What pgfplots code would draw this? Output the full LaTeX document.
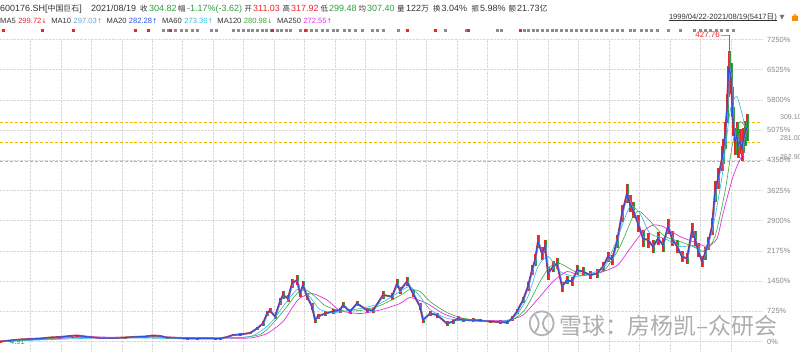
\documentclass[border=0pt]{standalone}
\usepackage{fontspec}
\setmainfont{Liberation Sans}
\newfontfamily\cjk{Noto Sans CJK SC}
\newfontfamily\dv{DejaVu Sans}
\usepackage{pgfplots}
\usepackage{pgfplotstable}
\pgfplotsset{compat=1.18}
\definecolor{txt}{HTML}{333333}
\definecolor{upred}{HTML}{E8262B}
\definecolor{dngreen}{HTML}{2E9E3E}
\definecolor{ma10}{HTML}{6F9FD0}
\definecolor{ma20}{HTML}{2850E8}
\definecolor{ma60}{HTML}{30B8E0}
\definecolor{ma120}{HTML}{3AA83A}
\definecolor{ma250}{HTML}{E030E0}
\definecolor{dashcol}{HTML}{F5B800}
\definecolor{lbl}{HTML}{888888}

\pgfplotstableread{
x y e
0 0 15
10 24 15
20 48 15
30 60 15
40 72 15
50 96 20
60 108 20
70 132 20
77 144 20
85 120 20
100 84 20
115 84 20
125 96 20
133 108 20
145 120 20
153 144 20
160 132 20
167 96 20
177 84 20
187 72 15
197 72 15
207 77 15
215 72 15
220 72 15
227 108 20
233 156 25
240 168 25
250 204 30
257 312 40
263 432 50
267 672 70
270 744 70
275 600 60
280 960 80
283 1116 90
288 1032 90
292 1392 100
297 1476 110
300 1152 90
303 1356 100
307 1080 90
312 840 80
315 516 60
318 600 60
325 672 60
333 720 60
340 756 60
343 876 70
350 720 60
357 912 70
367 756 60
373 744 60
383 1116 90
392 1080 90
397 1392 100
400 1224 90
407 1440 100
413 1152 90
420 840 80
423 516 60
430 672 60
437 636 60
447 432 50
453 480 50
458 552 50
463 516 50
473 516 40
480 504 40
490 480 40
500 468 40
507 456 40
512 552 50
517 720 60
523 996 80
528 1320 100
532 1716 120
535 1956 140
538 2400 160
542 2112 160
545 2280 160
548 1632 150
553 1800 130
557 1872 130
562 1320 120
567 1476 100
572 1440 100
577 1716 110
583 1680 100
590 1596 100
597 1632 100
603 1800 110
608 2040 120
612 1968 120
617 2400 150
622 3072 200
627 3552 220
630 3312 200
633 3156 200
638 2832 200
643 2472 200
648 2436 180
653 2280 160
658 2472 160
663 2316 160
668 2760 180
672 2472 170
677 2280 160
682 2040 140
687 1992 140
692 2676 180
695 2472 170
698 2196 160
702 1920 140
705 2112 150
708 2352 160
712 2760 200
715 3600 250
718 3912 260
722 4392 300
723 4560 300
725 4944 320
727 5592 350
728 6240 380
729 6600 380
731 6312 380
732 5760 360
733 5280 340
735 4800 320
737 4944 320
738 4704 300
740 4800 300
742 4632 300
743 4824 300
745 4992 300
747 5136 320
}\closedata

\pgfplotstableread{
x y
0 0
30 36
60 72
80 108
100 108
130 96
160 108
190 96
220 84
250 84
267 192
283 480
293 840
300 1044
312 1152
327 996
340 744
360 672
380 756
400 912
410 1056
427 912
443 672
457 552
470 516
490 504
507 504
523 636
540 1080
553 1440
567 1680
580 1584
597 1632
617 1824
630 2232
643 2640
653 2796
663 2760
680 2520
693 2400
707 2280
717 2472
723 3072
733 3960
740 4368
745 4584
}\madata

\pgfplotstableread{
x y
0 0
60 84
100 96
160 108
200 84
240 96
260 168
270 360
283 720
297 1152
305 1248
315 1080
325 864
340 744
360 744
380 864
400 1104
410 1248
420 1200
430 960
445 720
460 576
480 504
510 504
525 768
540 1440
550 1800
560 1872
575 1680
590 1608
605 1728
620 2280
633 3000
640 3120
655 2760
665 2520
680 2400
693 2280
705 2160
715 2520
725 3600
733 4800
740 5280
747 5088
}\mbdata

\pgfplotstableread{
x y
0 0
100 84
200 72
250 120
270 432
283 840
297 1248
305 1200
312 1008
320 768
335 696
360 792
380 912
400 1200
410 1320
420 1080
430 768
445 576
460 504
500 480
515 600
528 1080
538 1800
548 2040
560 1680
575 1560
590 1632
605 1800
618 2520
630 3240
640 3072
650 2592
665 2472
680 2280
693 2304
703 2160
712 2640
722 3960
730 5520
737 5880
745 5160
}\mcdata

\begin{document}
\begin{tikzpicture}[x=1bp,y=1bp]
\useasboundingbox (0,0) rectangle (800,351);
\begin{axis}[at={(0,0)}, anchor=south west, scale only axis,
  width=762bp, height=311.5bp,
  xmin=0, xmax=762, ymin=-228, ymax=7250, enlargelimits=false,
  clip=false, axis line style={draw=none}, major tick length=0pt,
  xtick={30.5,61,91.4,121.8,152.3,182.7,213.2,243.6,274,304.5,335,365.4,395.9,426.3,456.8,487.2,517.7,548.1,578.6,609,639.5,669.9,700.4,730.8},
  xticklabels={},
  ytick={0,725,1450,2175,2900,3625,4350,5075,5800,6525,7250},
  yticklabels={0\%,725\%,1450\%,2175\%,2900\%,3625\%,4350\%,5075\%,5800\%,6525\%,7250\%},
  yticklabel pos=right,
  yticklabel style={font=\fontsize{7.5}{8}\selectfont, text=lbl, anchor=west, inner sep=0pt, xshift=5bp},
  grid=major, major grid style={densely dotted, black!15, line width=0.5bp}]

% price level dashed lines
\addplot[dashcol, densely dashed, line width=0.7bp] coordinates {(0,5268) (762,5268)};
\addplot[dashcol, densely dashed, line width=0.7bp] coordinates {(0,4788) (762,4788)};
\addplot[dashcol, densely dashed, line width=0.7bp] coordinates {(0,4332) (762,4332)};

% event markers row
\addplot[only marks, mark=square*, mark size=0.7bp, black!45] coordinates {
(163,7476)(168,7476)(175,7476)(181,7476)(186,7476)(192,7476)(197,7476)(211,7476)(216,7476)
(233,7476)(238,7476)(243,7476)(248,7476)(252,7476)(257,7476)(262,7476)(266,7476)(271,7476)(277,7476)(281,7476)(286,7476)(290,7476)
(300,7476)(306,7476)(311,7476)(316,7476)(322,7476)(327,7476)(333,7476)(337,7476)(344,7476)(349,7476)(355,7476)(362,7476)
(372,7476)(377,7476)(383,7476)(398,7476)(445,7476)(466,7476)(497,7476)(501,7476)
(524,7476)(528,7476)(533,7476)(537,7476)(542,7476)(547,7476)(552,7476)(556,7476)(561,7476)(566,7476)(571,7476)(576,7476)(581,7476)(586,7476)(591,7476)(596,7476)(601,7476)(606,7476)
(612,7476)(617,7476)(622,7476)(630,7476)(634,7476)(641,7476)(646,7476)(651,7476)(657,7476)(668,7476)(680,7476)(694,7476)(700,7476)(705,7476)(710,7476)(716,7476)(721,7476)(727,7476)(733,7476)};
\addplot[only marks, mark=square*, mark size=1.1bp, upred] coordinates {
(3,7476)(42,7476)(73,7476)(135,7476)(148,7476)(170,7476)(272,7476)(305,7476)(407,7476)(435,7476)(468,7476)(520,7476)};

% candles approximated: high-low bars
\addplot[draw=none, mark=none, error bars/.cd, y dir=both, y explicit, error mark=none,
  error bar style={draw=upred, line width=1.3bp}] table[x=x, y=y, y error=e]{\closedata};
\addplot[draw=none, mark=none, xshift=1.6bp, error bars/.cd, y dir=both, y explicit, error mark=none,
  error bar style={draw=dngreen, line width=0.8bp}] table[x=x, y=y, y error=e]{\closedata};
\addplot[upred, line width=1.9bp, line join=round] table[x=x,y=y]{\closedata};
\addplot[ma250, line width=0.7bp, smooth, tension=0.4] table[x=x,y=y]{\madata};
\addplot[ma120, line width=0.6bp, smooth, tension=0.4] table[x=x,y=y]{\mbdata};
\addplot[ma60, line width=0.6bp, smooth, tension=0.4] table[x=x,y=y]{\mcdata};
\addplot[ma10, line width=0.6bp, line join=round, xshift=1bp] table[x=x,y=y]{\closedata};
\addplot[ma20, line width=1.0bp, line join=round] table[x=x,y=y]{\closedata};
\addplot[dngreen, line width=0.9bp] coordinates {(729,6600) (729,7356)};

\draw[black!40, line width=0.4bp] (axis cs:721,7356) -- (axis cs:729,7356);
\node[anchor=east, inner sep=0pt, text=upred, font=\fontsize{8}{9}\selectfont] at (axis cs:720,7356) {427.76};
\node[anchor=west, inner sep=0pt, text=dngreen, font=\fontsize{7.5}{8}\selectfont] at (axis cs:10,-12) {4.91};
\end{axis}

% right price labels
\node[anchor=base west, inner sep=0pt, text=lbl, font=\fontsize{7}{8}\selectfont] at (780,231.5) {309.10};
\node[anchor=base west, inner sep=0pt, text=lbl, font=\fontsize{7}{8}\selectfont] at (780,211) {281.00};
\node[anchor=base west, inner sep=0pt, text=lbl, font=\fontsize{7}{8}\selectfont] at (780,191.5) {252.90};

% header line 1
\begin{scope}[every node/.style={anchor=base west, inner sep=0pt, font=\fontsize{9}{10}\selectfont, text=txt}]
\node at (0,340) {600176.SH[{\cjk\fontsize{8}{9}\selectfont 中国巨石}]};
\node at (91,340) {2021/08/19};
\node at (140,340) {\cjk\fontsize{7.5}{9}\selectfont 收};
\node[text=dngreen] at (149,340) {304.82};
\node at (178,340) {\cjk\fontsize{7.5}{9}\selectfont 幅};
\node[text=dngreen] at (187,340) {-1.17\%(-3.62)};
\node at (244.5,340) {\cjk\fontsize{7.5}{9}\selectfont 开};
\node[text=upred] at (253,340) {311.03};
\node at (282.5,340) {\cjk\fontsize{7.5}{9}\selectfont 高};
\node[text=upred] at (291,340) {317.92};
\node at (320.5,340) {\cjk\fontsize{7.5}{9}\selectfont 低};
\node[text=dngreen] at (329,340) {299.48};
\node at (358.5,340) {\cjk\fontsize{7.5}{9}\selectfont 均};
\node[text=dngreen] at (367,340) {307.40};
\node at (397,340) {\cjk\fontsize{7.5}{9}\selectfont 量};
\node at (406,340) {122{\cjk\fontsize{8}{9}\selectfont 万}};
\node at (433,340) {\cjk\fontsize{7.5}{9}\selectfont 换};
\node at (441.5,340) {3.04\%};
\node at (471.5,340) {\cjk\fontsize{7.5}{9}\selectfont 振};
\node at (480,340) {5.98\%};
\node at (508.5,340) {\cjk\fontsize{7.5}{9}\selectfont 额};
\node at (517,340) {21.73{\cjk\fontsize{8}{9}\selectfont 亿}};
\end{scope}

% header line 2
\node[anchor=base west, inner sep=0pt, font=\fontsize{7.6}{8}\selectfont, text=txt] at (0,328)
{MA5\hspace{2.5bp}\textcolor{upred}{299.72{\dv\fontsize{6.5}{7}\selectfont ↓}}\hspace{4.5bp}%
MA10\hspace{2.5bp}\textcolor{ma10}{297.03{\dv\fontsize{6.5}{7}\selectfont ↑}}\hspace{4.5bp}%
MA20\hspace{2.5bp}\textcolor{ma20}{282.28{\dv\fontsize{6.5}{7}\selectfont ↑}}\hspace{4.5bp}%
MA60\hspace{2.5bp}\textcolor{ma60}{273.36{\dv\fontsize{6.5}{7}\selectfont ↑}}\hspace{4.5bp}%
MA120\hspace{2.5bp}\textcolor{ma120}{280.98{\dv\fontsize{6.5}{7}\selectfont ↓}}\hspace{4.5bp}%
MA250\hspace{2.5bp}\textcolor{ma250}{272.55{\dv\fontsize{6.5}{7}\selectfont ↑}}};

% date range
\node[anchor=base east, inner sep=0pt, text=txt, font=\fontsize{7.6}{9}\selectfont] (dr) at (777,332) {1999/04/22-2021/08/19(5417{\cjk 日})};
\draw[txt, line width=0.4bp] (dr.south west |- 0,330.6) -- (dr.south east |- 0,330.6);
\node[anchor=base west, inner sep=0pt, text=black!55, font=\dv\fontsize{6.5}{8}\selectfont] at (779.5,332) {▼};
\fill[orange!90!yellow] (792,330) rectangle (798,335);
\draw[orange!90!yellow, line width=0.8bp] (793.3,335) arc (180:0:1.7);

% watermark
\draw[black!30, line width=1.8bp] (541.7,27.7) circle (12);
\draw[black!30, line width=1.8bp] (535,36) .. controls (540,30) and (540,25) .. (535,19);
\draw[black!30, line width=1.8bp] (548,36) .. controls (541,30) and (541,25) .. (548,19);
\node[anchor=west, inner sep=0pt, text=black!32, font=\cjk\fontsize{23}{23}\selectfont] at (559,25) {雪球：房杨凯–众研会};
\end{tikzpicture}
\end{document}
